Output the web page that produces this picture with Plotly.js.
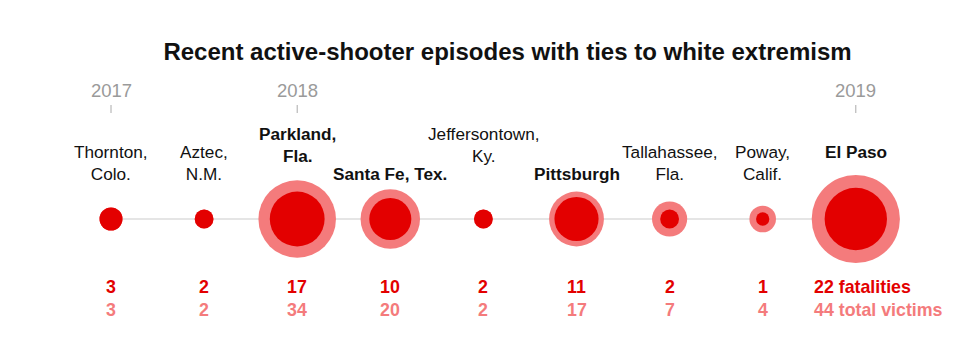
<!DOCTYPE html>
<html>
<head>
<meta charset="utf-8">
<script src="https://cdn.plot.ly/plotly-3.0.1.min.js"></script>
<style>html,body{margin:0;padding:0;background:#fff}#chart{width:980px;height:352px}</style>
</head>
<body>
<div id="chart"></div>
<script>
// ---- data ----
var places = ["Thornton,<br>Colo.", "Aztec,<br>N.M.", "Parkland,<br>Fla.", "Santa Fe, Tex.", "Jeffersontown,<br>Ky.", "Pittsburgh", "Tallahassee,<br>Fla.", "Poway,<br>Calif.", "El Paso"];
var fatalities = [3, 2, 17, 10, 2, 11, 2, 1, 22];
var totalVictims = [3, 2, 34, 20, 2, 17, 7, 4, 44];
var yearLabels = ["2017", "2018", "2019"];
var yearAt = ["Thornton,<br>Colo.", "Parkland,<br>Fla.", "El Paso"];
var titleText = "Recent active-shooter episodes with ties to white extremism";

// ---- layout config (not data) ----
var labelRow = [0, 0, -1, 1, -1, 1, 0, 0, 0];
var W = 980, H = 352;
var baseY = 219;
var pxPerUnit = 93.1, firstX = 111;
var x0 = -firstX / pxPerUnit, x1 = x0 + W / pxPerUnit;
var radiusK = 6.65;
var RED = "#e30000", PINK = "#f47b7c";
var FONT = "Liberation Sans, Arial, sans-serif";
var LBL = 17.2, NUM = 17.8;

var n = places.length;
var lineTrace = {
  x: [places[0], places[n - 1]], y: [baseY, baseY], mode: "lines",
  line: {color: "#dcdcdc", width: 1.5}, hoverinfo: "skip", showlegend: false
};
var outerTrace = {
  x: places, y: places.map(function(){return baseY;}), mode: "markers",
  marker: {color: PINK, size: totalVictims.map(function(v){return 2 * radiusK * Math.sqrt(v);}), line: {width: 0}, opacity: 1},
  hoverinfo: "skip", showlegend: false
};
var innerTrace = {
  x: places, y: places.map(function(){return baseY;}), mode: "markers",
  marker: {color: RED, size: fatalities.map(function(v){return 2 * radiusK * Math.sqrt(v);}), line: {width: 0}, opacity: 1},
  hoverinfo: "skip", showlegend: false
};

var annotations = [];
var shapes = [];
// place labels
var rowFirstLine = {"-1": 134, "0": 152, "1": 174};
places.forEach(function(p, i){
  var bold = fatalities[i] >= 10;
  annotations.push({
    x: p, y: rowFirstLine[String(labelRow[i])] - 12.5, xref: "x", yref: "y",
    text: bold ? "<b>" + p + "</b>" : p, showarrow: false,
    xanchor: "center", yanchor: "top", align: "center",
    font: {family: FONT, size: LBL, color: "#111"}
  });
  var last = i === n - 1;
  annotations.push({
    x: p, y: 287, xref: "x", yref: "y",
    text: "<b>" + fatalities[i] + (last ? " fatalities" : "") + "</b>", showarrow: false,
    xanchor: last ? "left" : "center", xshift: last ? -44 : 0, yanchor: "middle",
    font: {family: FONT, size: NUM, color: RED}
  });
  annotations.push({
    x: p, y: 310, xref: "x", yref: "y",
    text: "<b>" + totalVictims[i] + (last ? " total victims" : "") + "</b>", showarrow: false,
    xanchor: last ? "left" : "center", xshift: last ? -44 : 0, yanchor: "middle",
    font: {family: FONT, size: NUM, color: PINK}
  });
});
// years
yearLabels.forEach(function(yl, j){
  annotations.push({
    x: yearAt[j], y: 90, xref: "x", yref: "y", text: yl, showarrow: false,
    xanchor: "center", yanchor: "middle",
    font: {family: FONT, size: 18.5, color: "#9a9a9a"}
  });
  shapes.push({type: "line", xref: "x", yref: "y", x0: yearAt[j], x1: yearAt[j], y0: 105, y1: 113,
    line: {color: "#aaa", width: 1}});
});

var layout = {
  width: W, height: H,
  margin: {l: 0, r: 0, t: 0, b: 0},
  paper_bgcolor: "#fff", plot_bgcolor: "#fff",
  title: {text: "<b>" + titleText + "</b>", x: 507.5 / W, xanchor: "center", y: 1 - 52 / H, yanchor: "middle", yref: "container",
    font: {family: FONT, size: 24, color: "#111"}},
  xaxis: {type: "category", categoryorder: "array", categoryarray: places, range: [x0, x1], visible: false, fixedrange: true},
  yaxis: {range: [H, 0], visible: false, fixedrange: true},
  annotations: annotations, shapes: shapes, showlegend: false
};
Plotly.newPlot("chart", [lineTrace, outerTrace, innerTrace], layout, {displayModeBar: false, staticPlot: true});
</script>
</body>
</html>
